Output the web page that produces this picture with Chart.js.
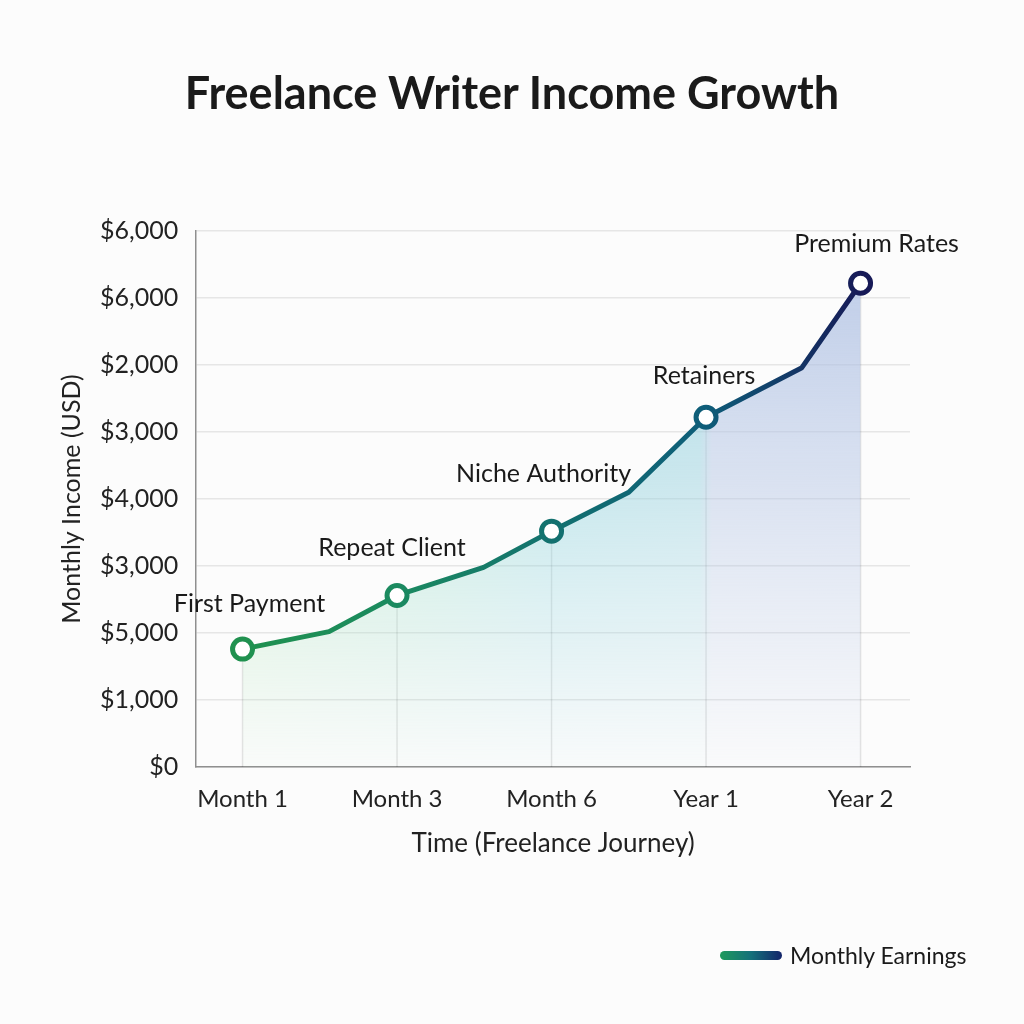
<!DOCTYPE html>
<html>
<head>
<meta charset="utf-8">
<title>Freelance Writer Income Growth</title>
<script src="https://cdn.jsdelivr.net/npm/chart.js@4.4.1/dist/chart.umd.min.js"></script>
<style>
    html, body { margin: 0; padding: 0; background: #fcfcfc; }
    #wrap { position: relative; width: 1024px; height: 1024px; }
    #title {
        position: absolute; left: 0; top: 64px; width: 1024px; margin: 0;
        text-align: center; font-family: Lato, sans-serif; font-size: 45px;
        font-weight: bold; color: #1a1a1a; line-height: 56px;
    }
    #legend {
        position: absolute; left: 720px; top: 941px;
        display: flex; align-items: center;
        font-family: Lato, sans-serif; font-size: 23px; color: #1a1a1a;
    }
    #legend .swatch {
        width: 62px; height: 9px; border-radius: 5px; margin-right: 8px;
        background: linear-gradient(90deg, #1f9a5c, #14707a 50%, #13246a);
    }
</style>
</head>
<body>
<div id="wrap">
    <canvas id="incomeChart" width="1024" height="1024"></canvas>
    <h1 id="title">Freelance Writer Income Growth</h1>
    <div id="legend"><span class="swatch"></span>Monthly Earnings</div>
</div>
<script>
// Datos del gráfico
const xLabels = ['Month 1', 'Month 3', 'Month 6', 'Year 1', 'Year 2'];
const xPositions = [0, 0.56, 1, 1.56, 2, 2.5, 3, 3.62, 4];
const incomeValues = [1760, 2020, 2560, 2980, 3520, 4100, 5220, 5960, 7220];
const milestoneLabels = ['First Payment', '', 'Repeat Client', '', 'Niche Authority', '', 'Retainers', '', 'Premium Rates'];
const yTickLabels = ['$0', '$1,000', '$5,000', '$3,000', '$4,000', '$3,000', '$2,000', '$6,000', '$6,000'];

// Desplazamiento de las etiquetas respecto a cada hito
const labelOffsets = { 0: [7, 45], 2: [-5, 48], 4: [-8, 57], 6: [-2, 41], 8: [16, 39] };

const FONT = 'Lato, "Open Sans", sans-serif';

// Degradado horizontal de la línea
function lineGradient(chart) {
    const area = chart.chartArea;
    if (!area) return '#1f9150';
    const x = chart.scales.x;
    const g = chart.ctx.createLinearGradient(x.getPixelForValue(0), 0, x.getPixelForValue(4), 0);
    g.addColorStop(0, '#20914f');
    g.addColorStop(0.25, '#1b8a60');
    g.addColorStop(0.5, '#13716f');
    g.addColorStop(0.75, '#0e5d79');
    g.addColorStop(1, '#171a57');
    return g;
}

// Relleno: degradado horizontal que se desvanece hacia abajo
function areaFill(chart) {
    const area = chart.chartArea;
    if (!area) return 'transparent';
    const c = document.createElement('canvas');
    c.width = chart.width;
    c.height = chart.height;
    const g = c.getContext('2d');
    const x = chart.scales.x;
    const h = g.createLinearGradient(x.getPixelForValue(0), 0, x.getPixelForValue(4), 0);
    h.addColorStop(0, 'rgb(170,228,180)');
    h.addColorStop(0.3, 'rgb(150,218,200)');
    h.addColorStop(0.5, 'rgb(140,210,220)');
    h.addColorStop(0.74, 'rgb(150,208,222)');
    h.addColorStop(0.76, 'rgb(180,197,228)');
    h.addColorStop(1, 'rgb(178,195,228)');
    g.fillStyle = h;
    g.fillRect(area.left, area.top, area.width, area.height);
    g.globalCompositeOperation = 'destination-out';
    const v = g.createLinearGradient(0, area.top, 0, area.bottom);
    v.addColorStop(0, 'rgba(0,0,0,0.12)');
    v.addColorStop(0.6, 'rgba(0,0,0,0.65)');
    v.addColorStop(1, 'rgba(0,0,0,0.97)');
    g.fillStyle = v;
    g.fillRect(area.left, area.top, area.width, area.height);
    return chart.ctx.createPattern(c, 'no-repeat');
}

// Líneas verticales desde cada hito hasta el eje
const dropLines = {
    id: 'dropLines',
    beforeDatasetsDraw(chart) {
        const ctx = chart.ctx;
        const meta = chart.getDatasetMeta(0);
        ctx.save();
        ctx.strokeStyle = 'rgba(0,0,0,0.10)';
        ctx.lineWidth = 1.5;
        meta.data.forEach((pt, i) => {
            if (!milestoneLabels[i]) return;
            ctx.beginPath();
            ctx.moveTo(pt.x, pt.y);
            ctx.lineTo(pt.x, chart.chartArea.bottom);
            ctx.stroke();
        });
        ctx.restore();
    }
};

// Etiquetas de los hitos
const milestoneText = {
    id: 'milestoneText',
    afterDatasetsDraw(chart) {
        const ctx = chart.ctx;
        const meta = chart.getDatasetMeta(0);
        ctx.save();
        ctx.font = '25px ' + FONT;
        ctx.fillStyle = '#1a1a1a';
        ctx.textAlign = 'center';
        ctx.textBaseline = 'middle';
        meta.data.forEach((pt, i) => {
            if (!milestoneLabels[i]) return;
            const off = labelOffsets[i];
            ctx.fillText(milestoneLabels[i], pt.x + off[0], pt.y - off[1]);
        });
        ctx.restore();
    }
};

const ctx = document.getElementById('incomeChart');
new Chart(ctx, {
    type: 'line',
    data: {
        datasets: [{
            label: 'Monthly Earnings',
            data: xPositions.map((x, i) => ({ x: x, y: incomeValues[i] })),
            borderColor: c => lineGradient(c.chart),
            pointBorderColor: c => lineGradient(c.chart),
            pointBackgroundColor: '#ffffff',
            backgroundColor: c => areaFill(c.chart),
            fill: 'origin',
            borderWidth: 5,
            tension: 0,
            pointRadius: c => milestoneLabels[c.dataIndex] ? 10 : 0,
            pointHoverRadius: c => milestoneLabels[c.dataIndex] ? 10 : 0,
            pointBorderWidth: 5,
            borderJoinStyle: 'round',
            borderCapStyle: 'round'
        }]
    },
    options: {
        responsive: false,
        animation: false,
        layout: { padding: { top: 231, left: 57, right: 114, bottom: 165 } },
        plugins: {
            legend: { display: false },
            tooltip: { enabled: false },
            title: { display: false }
        },
        scales: {
            x: {
                type: 'linear',
                min: -0.3,
                max: 4.32,
                afterBuildTicks: axis => {
                    axis.ticks = xLabels.map((_, i) => ({ value: i }));
                },
                grid: { display: false, drawTicks: false },
                border: { display: true, color: '#8f8f8f', width: 1.5 },
                ticks: {
                    padding: 18,
                    color: '#222',
                    font: { family: FONT, size: 24 },
                    callback: v => xLabels[v]
                },
                title: {
                    display: true,
                    text: 'Time (Freelance Journey)',
                    color: '#222',
                    font: { family: FONT, size: 26 },
                    padding: { top: -4, bottom: 0 }
                }
            },
            y: {
                min: 0,
                max: 8000,
                ticks: {
                    stepSize: 1000,
                    padding: 18,
                    color: '#222',
                    font: { family: FONT, size: 25 },
                    callback: (v, i) => yTickLabels[i]
                },
                grid: { color: '#e6e6e6', lineWidth: 1.5, drawTicks: false },
                border: { display: true, color: '#8f8f8f', width: 1.5 },
                title: {
                    display: true,
                    text: 'Monthly Income (USD)',
                    color: '#222',
                    font: { family: FONT, size: 25 },
                    padding: { top: 0, bottom: -5 }
                }
            }
        }
    },
    plugins: [dropLines, milestoneText]
});
</script>
</body>
</html>
